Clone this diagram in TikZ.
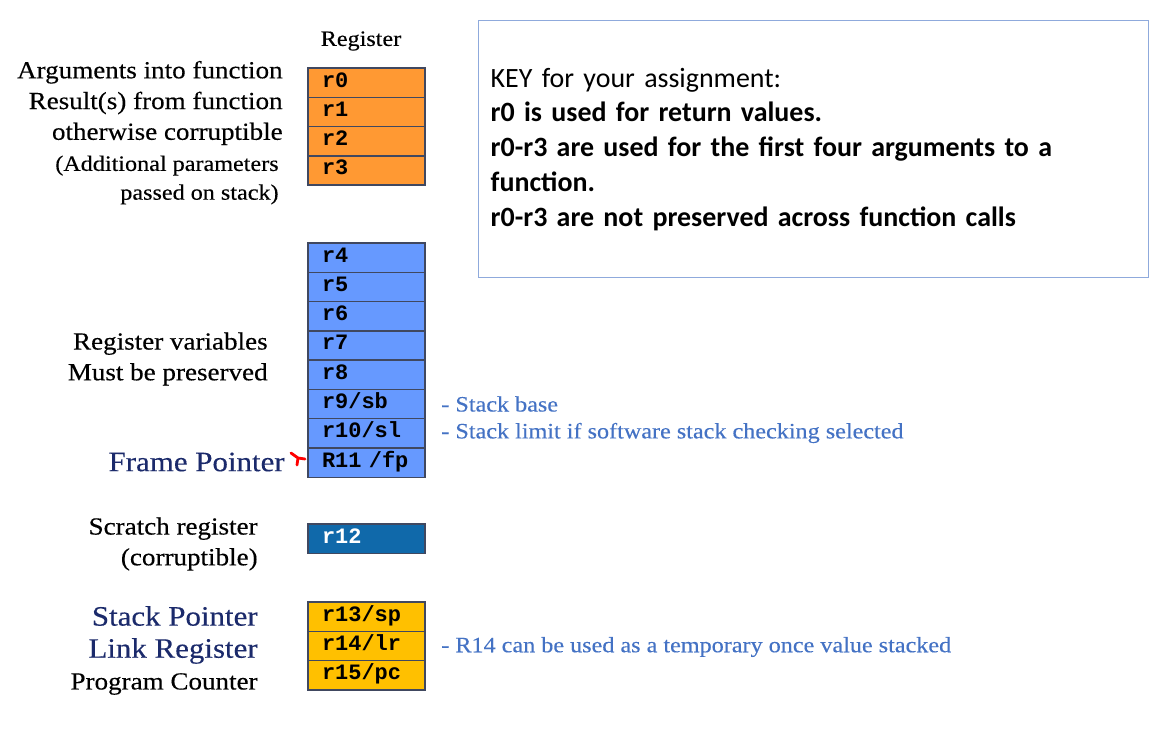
\documentclass[tikz,border=0pt]{standalone}
\usepackage{fontspec}
\setmainfont[FakeStretch=1.1,FakeBold=0.3]{Liberation Serif}
\setmonofont{Liberation Mono}
\newfontfamily\keyfont{Carlito}
\usetikzlibrary{positioning}
\definecolor{rorange}{HTML}{FF9933}
\definecolor{rblue}{HTML}{6699FF}
\definecolor{rdark}{HTML}{1069AA}
\definecolor{ryellow}{HTML}{FFC000}
\definecolor{rline}{HTML}{404860}
\definecolor{rnavy}{HTML}{1B2A6B}
\definecolor{rnote}{HTML}{4472C4}
\definecolor{rkey}{HTML}{8FAADC}
\tikzset{
  cell/.style={draw=rline,line width=0.8pt,outer sep=0pt,minimum height=0.586cm,text width=1.78cm,inner xsep=0.28cm,inner ysep=0pt,align=left,font=\fontsize{12.5}{14}\selectfont\ttfamily\bfseries,text height=1.55ex,text depth=0.45ex},
  argreg/.style={cell,fill=rorange},
  varreg/.style={cell,fill=rblue},
  scrreg/.style={cell,fill=rdark,text=white},
  spcreg/.style={cell,fill=ryellow},
  lbl/.style={font=\fontsize{14}{17.5}\selectfont,align=right,anchor=east,inner sep=0pt},
  slbl/.style={lbl,font=\fontsize{12.5}{16.4}\selectfont},
  nlbl/.style={lbl,text=rnavy,font=\fontsize{16}{18}\selectfont},
  note/.style={font=\fontsize{12.5}{15}\selectfont,text=rnote,anchor=west,inner sep=0pt},
  keybox/.style={draw=rkey,line width=0.8pt,minimum width=13.4cm,minimum height=5.14cm,text width=12.92cm,inner xsep=0.24cm,align=left,font=\keyfont\fontsize{15.9}{19.8}\selectfont},
  fpmark/.style={draw=red,line width=1.6pt,line cap=round,line join=round},
}
\begin{document}
\begin{tikzpicture}[x=0.02cm,y=-0.02cm,node distance=0pt]
  \useasboundingbox (0,0) rectangle (1169,730);
  \node[font=\fontsize{12.5}{14}\selectfont] (hdr) at (361,41) {Register};
  % arguments / results
  \node[argreg,anchor=north west] (r0) at (308,68) {r0};
  \foreach \a/\b in {r0/r1,r1/r2,r2/r3} \node[argreg,below=of \a] (\b) {\b};
  \node[lbl] (argtxt) at (283,103) {Arguments into function\\Result(s) from function\\otherwise corruptible};
  \node[slbl] (addtxt) at (279,180) {(Additional parameters\\passed on stack)};
  % register variables
  \node[varreg,anchor=north west] (r4) at (308,243) {r4};
  \foreach \a/\b in {r4/r5,r5/r6,r6/r7,r7/r8} \node[varreg,below=of \a] (\b) {\b};
  \node[varreg,below=of r8] (r9) {r9/sb};
  \node[varreg,below=of r9] (r10) {r10/sl};
  \node[varreg,below=of r10] (r11) {R11 /fp};
  \node[lbl] (regvar) at (268,359) {Register variables\\Must be preserved};
  \node[nlbl] (fp) at (285,462) {Frame Pointer};
  \draw[fpmark] (291,453) -- (298,458) -- (305,459) (298,458) -- (297,465);
  \node[note] (sbnote) at (441,404) {- Stack base};
  \node[note] (slnote) at (441,433) {- Stack limit if software stack checking selected};
  % scratch
  \node[scrreg,anchor=north west] (r12) at (308,524) {r12};
  \node[lbl] (scr) at (258,544) {Scratch register\\(corruptible)};
  % special
  \node[spcreg,anchor=north west] (r13) at (308,602) {r13/sp};
  \node[spcreg,below=of r13] (r14) {r14/lr};
  \node[spcreg,below=of r14] (r15) {r15/pc};
  \node[nlbl] (sp) at (258,616) {Stack Pointer};
  \node[nlbl] (lr) at (258,651) {Link Register};
  \node[lbl] (pc) at (258,684) {Program Counter};
  \node[note] (lrnote) at (441,647) {- R14 can be used as a temporary once value stacked};
  % key
  \node[keybox,anchor=north west] (key) at (478,20) {KEY for your assignment:\\
    \textbf{r0 is used for return values.}\\
    \textbf{r0-r3 are used for the first four arguments to a}\\
    \textbf{function.}\\
    \textbf{r0-r3 are not preserved across function calls}};
\end{tikzpicture}
\end{document}
